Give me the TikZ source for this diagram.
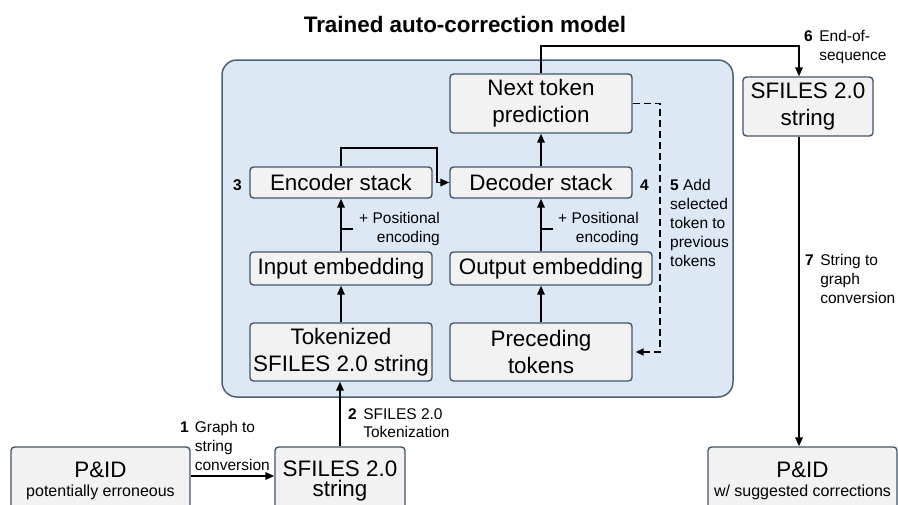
\documentclass[tikz,border=0pt]{standalone}
\usepackage{fontspec}
\setmainfont{Liberation Sans}
\usetikzlibrary{arrows.meta,calc}
\definecolor{boxfill}{HTML}{F2F2F2}
\definecolor{boxdraw}{HTML}{44546A}
\definecolor{modelfill}{HTML}{DDE8F5}
\definecolor{modeldraw}{HTML}{4F6073}
\tikzset{
  blk/.style={draw=boxdraw, fill=boxfill, line width=1.4pt, rounded corners=3.5pt,
    inner sep=0pt, align=center, font=\fontsize{22.4}{27}\selectfont},
  arr/.style={line width=1.8pt, -{Triangle[length=9pt,width=7.5pt]}},
  darr/.style={line width=1.8pt, dash pattern=on 7pt off 4pt, -{Triangle[length=8pt,width=7pt]}},
  plain/.style={line width=1.8pt},
  lbl/.style={inner sep=0pt, font=\fontsize{15.5}{19}\selectfont},
}
\begin{document}
\begin{tikzpicture}[x=1pt,y=-1pt]
\useasboundingbox (0,0) rectangle (898,504);
% container
\node[draw=modeldraw, fill=modelfill, line width=1.5pt, rounded corners=15pt,
  minimum width=511pt, minimum height=337pt, inner sep=0pt] (model) at (477.5,228.5) {};
\node[inner sep=0pt, anchor=base, font=\fontsize{22.4}{27}\selectfont\bfseries] (title) at (465,32) {Trained auto-correction model};
% boxes
\node[blk, minimum width=182pt, minimum height=59pt] (next) at (541,103.5) {Next token\\prediction};
\node[blk, minimum width=182pt, minimum height=31pt] (enc) at (341,182.5) {Encoder stack};
\node[blk, minimum width=182pt, minimum height=31pt] (dec) at (541,182.5) {Decoder stack};
\node[blk, minimum width=182pt, minimum height=33pt] (inemb) at (341,268.5) {Input embedding};
\node[blk, minimum width=202pt, minimum height=33pt] (outemb) at (551,268.5) {Output embedding};
\node[blk, minimum width=182pt, minimum height=58pt] (tok) at (341,352) {Tokenized\\SFILES 2.0 string};
\node[blk, minimum width=182pt, minimum height=58pt] (prec) at (541,352) {Preceding\\tokens};
\node[blk, minimum width=130pt, minimum height=59pt] (sfr) at (808,106.5) {SFILES 2.0\\string};
\node[blk, minimum width=179pt, minimum height=68pt, font=\fontsize{22.4}{19.5}\selectfont] (pidl) at (100.5,481) {P\&ID\\{\fontsize{16}{19}\selectfont potentially erroneous}};
\node[blk, minimum width=130pt, minimum height=68pt, font=\fontsize{22.4}{20.5}\selectfont] (sfb) at (340,481) {SFILES 2.0\\string};
\node[blk, minimum width=189pt, minimum height=68pt, font=\fontsize{22.4}{19.5}\selectfont] (pidr) at (802.5,481) {P\&ID\\{\fontsize{16}{19}\selectfont w/ suggested corrections}};
% helper coordinates
\coordinate (ed) at (437,148);
\coordinate (c6) at (799,46);
\coordinate (d5) at (660,103.5);
\coordinate (t1) at (341,229);
\coordinate (t1e) at (353,229);
\coordinate (t2) at (541,229);
\coordinate (t2e) at (553,229);
% connectors
\draw[arr] ([yshift=5pt]pidl.east) -- ([yshift=5pt]sfb.west);
\draw[arr] (sfb.north) -- (sfb.north |- tok.south);
\draw[arr] (tok.north) -- (inemb.south);
\draw[arr] (inemb.north) -- (enc.south);
\draw[plain] (t1) -- (t1e);
\draw[arr] (enc.north) |- (ed) |- (dec.west);
\draw[arr] (prec.north) -- (prec.north |- outemb.south);
\draw[arr] (dec.south |- outemb.north) -- (dec.south);
\draw[plain] (t2) -- (t2e);
\draw[arr] (dec.north) -- (next.south);
\draw[arr] (next.north) |- (c6) -- (c6 |- sfr.north);
\draw[arr] (c6 |- sfr.south) -- (c6 |- pidr.north);
\draw[darr] (next.east) -- (d5) |- ([xshift=3pt]prec.east);
% labels
\node[lbl, anchor=base west] (l1) at (180,432) {\begin{tabular}[t]{@{}l@{\hspace{6pt}}l@{}}\textbf{1} & Graph to\\ & string\\ & conversion\end{tabular}};
\node[lbl, anchor=base west] (l2) at (348,419) {\fontsize{15.5}{18}\selectfont\begin{tabular}[t]{@{}l@{\hspace{6.5pt}}l@{}}\textbf{2} & SFILES 2.0\\ & Tokenization\end{tabular}};
\node[lbl, anchor=base, font=\fontsize{15.5}{19}\selectfont\bfseries] (l3) at (237.5,190) {3};
\node[lbl, anchor=base, font=\fontsize{15.5}{19}\selectfont\bfseries] (l4) at (644.5,190) {4};
\node[lbl, anchor=base west] (l5) at (670,190) {\begin{tabular}[t]{@{}l@{}}\textbf{5} Add\\selected\\token to\\previous\\tokens\end{tabular}};
\node[lbl, anchor=base west] (l6) at (804,41) {\begin{tabular}[t]{@{}l@{\hspace{6.5pt}}l@{}}\textbf{6} & End-of-\\ & sequence\end{tabular}};
\node[lbl, anchor=base west] (l7) at (805,265) {\begin{tabular}[t]{@{}l@{\hspace{6.5pt}}l@{}}\textbf{7} & String to\\ & graph\\ & conversion\end{tabular}};
\node[lbl, anchor=base east] (pe1) at (440,223) {\begin{tabular}[t]{@{}r@{}}+ Positional\\encoding\end{tabular}};
\node[lbl, anchor=base east] (pe2) at (639,223) {\begin{tabular}[t]{@{}r@{}}+ Positional\\encoding\end{tabular}};
\end{tikzpicture}
\end{document}
